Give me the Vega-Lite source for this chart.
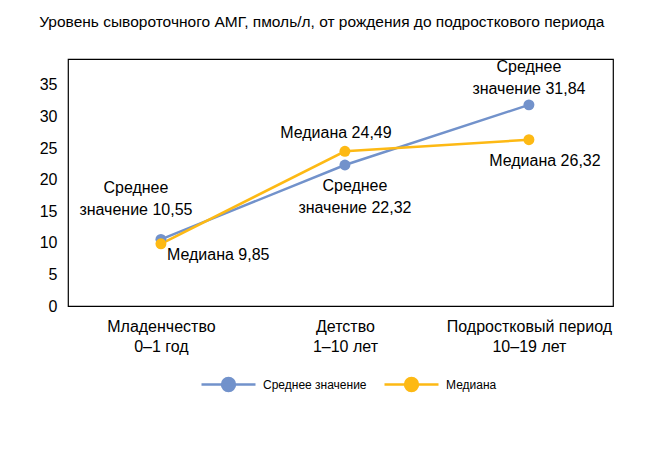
{
  "$schema": "https://vega.github.io/schema/vega-lite/v6.json",
  "width": 545,
  "height": 247,
  "autosize": "none",
  "padding": {"left": 68, "top": 59, "right": 35, "bottom": 149},
  "background": "white",
  "config": {
    "font": "Liberation Sans",
    "view": {"stroke": "black", "strokeWidth": 1.2},
    "text": {"font": "Liberation Sans"}
  },
  "title": {
    "text": "Уровень сывороточного АМГ, пмоль/л, от рождения до подросткового периода",
    "anchor": "start",
    "dx": 0,
    "offset": 28,
    "fontSize": 15.5,
    "fontWeight": "normal",
    "color": "black",
    "font": "Liberation Sans"
  },
  "data": {
    "values": [
      {"stage": "Младенчество\n0–1 год", "series": "Среднее значение", "value": 10.55, "label": "Среднее\nзначение 10,55"},
      {"stage": "Детство\n1–10 лет", "series": "Среднее значение", "value": 22.32, "label": "Среднее\nзначение 22,32"},
      {"stage": "Подростковый период\n10–19 лет", "series": "Среднее значение", "value": 31.84, "label": "Среднее\nзначение 31,84"},
      {"stage": "Младенчество\n0–1 год", "series": "Медиана", "value": 9.85, "label": "Медиана 9,85"},
      {"stage": "Детство\n1–10 лет", "series": "Медиана", "value": 24.49, "label": "Медиана 24,49"},
      {"stage": "Подростковый период\n10–19 лет", "series": "Медиана", "value": 26.32, "label": "Медиана 26,32"}
    ]
  },
  "encoding": {
    "x": {
      "field": "stage",
      "type": "nominal",
      "sort": null,
      "scale": {"type": "point", "padding": 0.481, "align": 0.525},
      "axis": {
        "title": null,
        "labelAngle": 0,
        "labelExpr": "split(datum.label, '\\n')",
        "labelFontSize": 16,
        "labelColor": "black",
        "labelLineHeight": 20,
        "labelPadding": 12,
        "labelLimit": 0,
        "ticks": false,
        "domain": false,
        "grid": false
      }
    },
    "y": {
      "field": "value",
      "type": "quantitative",
      "scale": {"domain": [0, 39.1], "nice": false},
      "axis": {
        "title": null,
        "values": [0, 5, 10, 15, 20, 25, 30, 35],
        "labelFontSize": 16,
        "labelColor": "black",
        "labelPadding": 11,
        "ticks": false,
        "domain": false,
        "grid": false
      }
    }
  },
  "layer": [
    {
      "mark": {"type": "line", "strokeWidth": 2.5},
      "encoding": {
        "color": {
          "field": "series",
          "type": "nominal",
          "scale": {"domain": ["Среднее значение", "Медиана"], "range": ["#7292CB", "#FDB914"]},
          "legend": {
            "title": null,
            "orient": "none",
            "legendX": 132,
            "legendY": 297,
            "direction": "horizontal",
            "symbolType": "M-1,0L1,0M0.24,0A0.24,0.24,0,1,1,-0.24,0A0.24,0.24,0,1,1,0.24,0Z",
            "symbolSize": 2916,
            "symbolStrokeWidth": 2.5,
            "labelFontSize": 12,
            "labelColor": "black",
            "labelOffset": 6,
            "columnPadding": 12,
            "padding": 0,
            "encode": {
              "symbols": {
                "update": {
                  "fill": {"scale": "color", "field": "value"},
                  "stroke": {"scale": "color", "field": "value"},
                  "opacity": {"value": 1}
                }
              }
            }
          }
        }
      }
    },
    {
      "mark": {"type": "point", "filled": true, "size": 120, "opacity": 1},
      "encoding": {
        "color": {"field": "series", "type": "nominal", "legend": null}
      }
    },
    {
      "transform": [{"filter": "datum.value === 10.55"}],
      "mark": {"type": "text", "lineBreak": "\n", "align": "center", "baseline": "middle", "dx": -25, "dy": -51, "fontSize": 16, "lineHeight": 22, "color": "black"},
      "encoding": {"text": {"field": "label"}}
    },
    {
      "transform": [{"filter": "datum.value === 9.85"}],
      "mark": {"type": "text", "align": "left", "baseline": "middle", "dx": 6, "dy": 11, "fontSize": 16, "color": "black"},
      "encoding": {"text": {"field": "label"}}
    },
    {
      "transform": [{"filter": "datum.value === 24.49"}],
      "mark": {"type": "text", "align": "center", "baseline": "middle", "dx": -9, "dy": -18, "fontSize": 16, "color": "black"},
      "encoding": {"text": {"field": "label"}}
    },
    {
      "transform": [{"filter": "datum.value === 22.32"}],
      "mark": {"type": "text", "lineBreak": "\n", "align": "center", "baseline": "middle", "dx": 10, "dy": 21, "fontSize": 16, "lineHeight": 22, "color": "black"},
      "encoding": {"text": {"field": "label"}}
    },
    {
      "transform": [{"filter": "datum.value === 31.84"}],
      "mark": {"type": "text", "lineBreak": "\n", "align": "center", "baseline": "middle", "dx": 0, "dy": -38, "fontSize": 16, "lineHeight": 22, "color": "black"},
      "encoding": {"text": {"field": "label"}}
    },
    {
      "transform": [{"filter": "datum.value === 26.32"}],
      "mark": {"type": "text", "align": "center", "baseline": "middle", "dx": 16, "dy": 21, "fontSize": 16, "color": "black"},
      "encoding": {"text": {"field": "label"}}
    }
  ]
}
